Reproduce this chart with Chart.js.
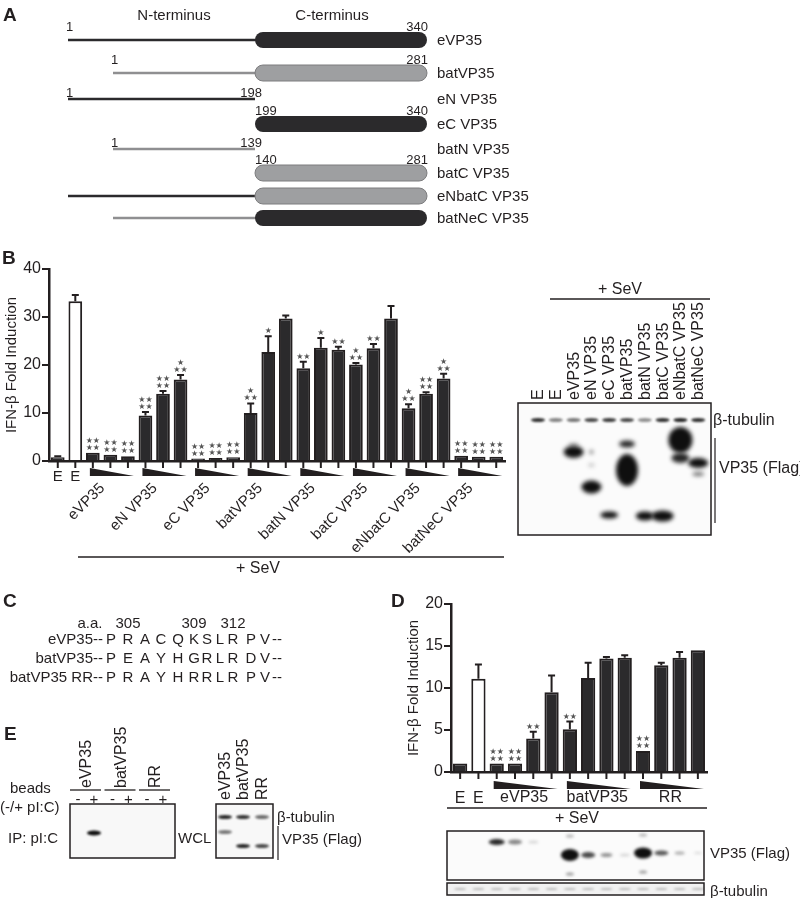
<!DOCTYPE html>
<html>
<head>
<meta charset="utf-8">
<script src="https://cdn.jsdelivr.net/npm/chart.js@4.4.1/dist/chart.umd.min.js"></script>
<style>
  html, body { margin: 0; padding: 0; background: #fff; }
  #page { position: relative; width: 800px; height: 898px; overflow: hidden;
          font-family: "Liberation Sans", Arial, Helvetica, sans-serif; color: #231f20; }
  #page canvas { position: absolute; left: 0; top: 0; }
  .t { position: absolute; white-space: nowrap; line-height: 1; }
</style>
</head>
<body>
<div id="page">
  <canvas id="art" width="800" height="898"></canvas>
  <canvas id="chartB" width="800" height="898"></canvas>
  <canvas id="chartD" width="800" height="898"></canvas>
</div>
<script>
const INK = '#231f20';
const BAR = '#2b2a2c';
const FONT = '"Liberation Sans", Arial, Helvetica, sans-serif';

// ---- panel A: constructs ----
const aNames = ['eVP35', 'batVP35', 'eN VP35', 'eC VP35', 'batN VP35', 'batC VP35', 'eNbatC VP35', 'batNeC VP35'];
const aNterm = ['e', 'bat', 'e', '', 'bat', '', 'e', 'bat'];
const aCterm = ['e', 'bat', '', 'e', '', 'bat', 'bat', 'e'];
const aNumbers = [['1', '', '340'], ['1', '', '281'], ['1', '198', ''], ['', '199', '340'],
                  ['1', '139', ''], ['', '140', '281'], ['', '', ''], ['', '', '']];

// ---- panel B: IFN-beta fold induction ----
const bGroups = ['eVP35', 'eN VP35', 'eC VP35', 'batVP35', 'batN VP35', 'batC VP35', 'eNbatC VP35', 'batNeC VP35'];
const bValues = [0.8, 33.3, 1.7, 1.3, 1.0, 9.5, 14.0, 17.0, 0.5, 0.6, 0.8, 10.0, 22.7, 29.7,
                 19.3, 23.6, 23.2, 20.1, 23.5, 29.7, 11.0, 14.0, 17.2, 1.1, 0.9, 0.9];
const bErrors = [0.2, 1.3, 0.1, 0.1, 0.1, 0.7, 0.6, 0.9, 0.1, 0.1, 0.1, 2.0, 3.3, 0.6,
                 1.4, 2.0, 0.6, 0.3, 0.9, 2.6, 0.8, 0.3, 1.0, 0.1, 0.1, 0.1];
const bStars = ['', '', '**/**', '**/**', '**/**', '**/**', '**/**', '*/**', '**/**', '**/**', '**/**',
                '*/**', '*', '', '**', '*', '**', '*/**', '**', '', '*/**', '**/**', '*/**',
                '**/**', '**/**', '**/**'];
const bTicks = [0, 10, 20, 30, 40];

// ---- panel D ----
const dGroups = ['eVP35', 'batVP35', 'RR'];
const dValues = [1.0, 11.1, 1.0, 1.0, 4.0, 9.5, 5.1, 11.2, 13.5, 13.6, 2.5, 12.7, 13.6, 14.5];
const dErrors = [0.1, 1.7, 0.1, 0.1, 0.8, 2.0, 0.9, 1.8, 0.2, 0.3, 0.1, 0.3, 0.7, 0.1];
const dStars = ['', '', '**/**', '**/**', '**', '', '**', '', '', '', '**/**', '', '', ''];
const dTicks = [0, 5, 10, 15, 20];

// ---- panel C: sequences ----
const cRows = ['eVP35--', 'batVP35--', 'batVP35 RR--'];
const cSeqs = ['PRACQKSLRPV', 'PEAYHGRLRDV', 'PRAYHRRLRPV'];

// ---- blots: [lane, y, w, h, darkness] ----
const blotBLanes = ['E', 'E', 'eVP35', 'eN VP35', 'eC VP35', 'batVP35', 'batN VP35', 'batC VP35', 'eNbatC VP35', 'batNeC VP35'];
const blotBTubulin = [0.85, 0.5, 0.55, 0.75, 0.8, 0.75, 0.45, 0.85, 0.9, 0.85];
const blotBFlag = [[2, 452, 20, 12, 1], [2, 445, 10, 4, 0.4], [3, 452, 4, 4, 0.6], [3, 487, 20, 13, 1],
                   [3, 465, 6, 3, 0.3], [4, 515, 18, 7, 1], [5, 444, 16, 7, 0.9], [5, 470, 22, 32, 1],
                   [6, 516, 18, 9, 1], [7, 516, 22, 11, 1], [8, 440, 24, 26, 1], [8, 458, 18, 10, 0.9],
                   [9, 463, 20, 10, 1], [9, 474, 12, 4, 0.6]];
const blotDFlag = [[2, 842, 16, 6, 0.9], [3, 842, 14, 5, 0.5], [4, 842, 10, 3, 0.15], [6, 855, 18, 12, 1],
                   [6, 836, 8, 3, 0.3], [6, 874, 8, 3, 0.4], [7, 855, 14, 6, 0.75], [8, 855, 12, 4, 0.45],
                   [9, 855, 10, 3, 0.15], [10, 853, 18, 11, 1], [10, 835, 8, 3, 0.3], [10, 872, 8, 3, 0.4],
                   [11, 853, 14, 5, 0.7], [12, 853, 10, 3, 0.35], [13, 853, 8, 2, 0.15]];
const blotEWclTubulin = [0.9, 0.85, 0.6];
const blotEWclFlag = [[0, 832, 14, 4, 0.55], [1, 846, 14, 4, 0.9], [2, 846, 14, 4, 0.75]];

const page = document.getElementById('page');

function label(text, x, y, opt = {}) {
  const d = document.createElement('div');
  d.className = 't';
  d.textContent = text;
  d.style.left = x + 'px';
  d.style.top = y + 'px';
  d.style.fontSize = (opt.size || 15) + 'px';
  if (opt.bold) d.style.fontWeight = 'bold';
  if (opt.rot) {
    d.style.transformOrigin = '0 0';
    d.style.transform = 'rotate(-90deg) translate(0,-50%)';
  } else {
    const ax = opt.align === 'right' ? '-100%' : opt.align === 'center' ? '-50%' : '0';
    d.style.transform = `translate(${ax},-50%)`;
  }
  page.appendChild(d);
}

// ---------- static art: panel A diagram and blots ----------
const art = document.getElementById('art').getContext('2d');
const aRowY = [40, 73, 99, 124, 149, 173, 196, 218];
const E_START = 68, BAT_START = 113, SPLIT = 255, C_END = 427;

aNames.forEach((name, r) => {
  const y = aRowY[r];
  if (aNterm[r]) {
    art.strokeStyle = aNterm[r] === 'e' ? BAR : '#8f8f91';
    art.lineWidth = 2.5;
    art.beginPath();
    art.moveTo(aNterm[r] === 'e' ? E_START : BAT_START, y);
    art.lineTo(SPLIT + (aCterm[r] ? 8 : 0), y);
    art.stroke();
  }
  if (aCterm[r]) {
    art.beginPath();
    art.roundRect(SPLIT, y - 8, C_END - SPLIT, 16, 8);
    art.fillStyle = aCterm[r] === 'e' ? BAR : '#9e9fa1';
    art.fill();
    if (aCterm[r] === 'bat') { art.strokeStyle = '#7c7c7e'; art.lineWidth = 1; art.stroke(); }
  }
  const ny = y - (aCterm[r] ? 14 : 7);
  const [n0, n1, n2] = aNumbers[r];
  if (n0) label(n0, (aNterm[r] === 'e' ? E_START : BAT_START) - 2, ny, { size: 13 });
  if (n1) {
    if (aCterm[r]) label(n1, SPLIT, ny, { size: 13 });
    else label(n1, SPLIT + 7, ny, { size: 13, align: 'right' });
  }
  if (n2) label(n2, C_END + 1, ny, { size: 13, align: 'right' });
  label(name, 437, y - 1, { size: 15 });
});
label('A', 3, 14, { size: 19, bold: true });
label('N-terminus', 174, 14, { size: 15, align: 'center' });
label('C-terminus', 332, 14, { size: 15, align: 'center' });

function blob(x, y, w, h, a, blur = 1.5) {
  art.save();
  art.filter = `blur(${blur}px)`;
  art.fillStyle = `rgba(15,15,15,${a})`;
  art.beginPath();
  art.ellipse(x, y, w / 2, h / 2, 0, 0, Math.PI * 2);
  art.fill();
  art.restore();
}
function box(x0, y0, x1, y1, lw = 1.5) {
  art.strokeStyle = INK;
  art.lineWidth = lw;
  art.strokeRect(x0, y0, x1 - x0, y1 - y0);
}
function hline(x0, x1, y, lw = 1.5) {
  art.strokeStyle = INK; art.lineWidth = lw;
  art.beginPath(); art.moveTo(x0, y); art.lineTo(x1, y); art.stroke();
}
function vline(x, y0, y1, lw = 1.5) {
  art.strokeStyle = INK; art.lineWidth = lw;
  art.beginPath(); art.moveTo(x, y0); art.lineTo(x, y1); art.stroke();
}

// blot B
const laneB = i => 538 + i * 17.8;
art.fillStyle = '#fbfbfb'; art.fillRect(518, 403, 193, 132);
blotBTubulin.forEach((a, i) => blob(laneB(i), 420, 14, 4, a, 1));
blotBFlag.forEach(([l, y, w, h, a]) => blob(laneB(l), y, w, h, a, 2));
box(518, 403, 711, 535);
blotBLanes.forEach((n, i) => label(n, laneB(i), 400, { size: 16, rot: true }));
hline(550, 710, 299);
label('+ SeV', 620, 289, { size: 16, align: 'center' });
label('β-tubulin', 713, 420, { size: 16 });
vline(715, 438, 523, 1.2);
label('VP35 (Flag)', 719, 468, { size: 16 });

// blot D
const laneD = i => 451 + 18.29 * (i + 0.5);
art.fillStyle = '#fbfbfb'; art.fillRect(447, 831, 257, 49);
blotDFlag.forEach(([l, y, w, h, a]) => blob(laneD(l), y, w, h, a, 1.8));
box(447, 831, 704, 880);
art.fillStyle = '#f1f1f1'; art.fillRect(447, 883, 257, 12);
for (let i = 0; i < 14; i++) blob(laneD(i), 889, 12, 2, 0.25, 0.8);
box(447, 883, 704, 895);
label('VP35 (Flag)', 710, 852, { size: 15 });
label('β-tubulin', 710, 890, { size: 15 });

// panel E
art.fillStyle = '#f8f8f8'; art.fillRect(70, 804, 105, 54); art.fillRect(216, 804, 57, 54);
blob(94, 833, 14, 5, 1, 1);
const laneE = [225, 243, 262];
blotEWclTubulin.forEach((a, i) => blob(laneE[i], 817, 14, 4, a, 0.8));
blotEWclFlag.forEach(([l, y, w, h, a]) => blob(laneE[l], y, w, h, a, 0.8));
box(70, 804, 175, 858);
box(216, 804, 273, 858);
label('E', 4, 733, { size: 19, bold: true });
['eVP35', 'batVP35', 'RR'].forEach((n, k) => {
  label(n, 86 + k * 34.5, 788, { size: 16, rot: true });
  hline(70 + k * 34.5, 101 + k * 34.5, 790, 1.3);
  label('-', 78 + k * 34.5, 798, { size: 15, align: 'center' });
  label('+', 94 + k * 34.5, 798, { size: 15, align: 'center' });
});
['eVP35', 'batVP35', 'RR'].forEach((n, k) => label(n, laneE[k], 800, { size: 16, rot: true }));
label('beads', 10, 787, { size: 15 });
label('(-/+ pI:C)', 0, 806, { size: 15 });
label('IP: pI:C', 8, 837, { size: 15 });
label('WCL', 178, 837, { size: 15 });
label('β-tubulin', 277, 816, { size: 15 });
vline(278, 826, 860, 1.2);
label('VP35 (Flag)', 282, 838, { size: 15 });

// panel C
const cCols = [111, 128, 145, 161, 178, 194, 207, 220, 233, 251, 265];
label('C', 3, 600, { size: 19, bold: true });
label('a.a.', 90, 622, { size: 15, align: 'center' });
label('305', cCols[1], 622, { size: 15, align: 'center' });
label('309', cCols[5], 622, { size: 15, align: 'center' });
label('312', cCols[8], 622, { size: 15, align: 'center' });
cRows.forEach((name, r) => {
  const y = 638 + r * 19;
  label(name, 103, y, { size: 15, align: 'right' });
  cSeqs[r].split('').forEach((ch, k) => label(ch, cCols[k], y, { size: 15, align: 'center' }));
  label('--', 272, y, { size: 15 });
});

label('B', 2, 257, { size: 19, bold: true });
label('D', 391, 600, { size: 19, bold: true });

// ---------- bar charts ----------
function annotations(o) {
  return {
    id: 'annot' + o.name,
    afterDatasetsDraw(chart) {
      const { ctx, scales: { x, y } } = chart;
      ctx.save();
      ctx.strokeStyle = INK;
      ctx.lineWidth = 2;
      o.values.forEach((v, i) => {
        const cx = x.getPixelForValue(i);
        let top = y.getPixelForValue(v);
        if (o.errors[i] > 0.15) {
          const et = y.getPixelForValue(v + o.errors[i]);
          ctx.beginPath();
          ctx.moveTo(cx, top); ctx.lineTo(cx, et);
          ctx.moveTo(cx - 3.5, et); ctx.lineTo(cx + 3.5, et);
          ctx.stroke();
          top = et;
        }
        if (o.stars[i]) {
          ctx.fillStyle = '#555';
          ctx.font = '8px "DejaVu Sans"';
          ctx.textAlign = 'center';
          ctx.textBaseline = 'middle';
          o.stars[i].split('/').reverse().forEach((row, k) => {
            ctx.fillText(row.replace(/\*/g, '★'), cx, top - 5 - k * 7);
          });
        }
      });
      ctx.restore();
    },
    afterDraw(chart) {
      const { ctx, scales: { x, y } } = chart;
      const base = y.getPixelForValue(0);
      const px = i => x.getPixelForValue(i);
      ctx.save();
      ctx.strokeStyle = INK;
      ctx.fillStyle = INK;
      ctx.lineWidth = 2;
      o.values.forEach((v, i) => {
        ctx.beginPath(); ctx.moveTo(px(i), base + 1); ctx.lineTo(px(i), base + 7); ctx.stroke();
      });
      ctx.textAlign = 'center';
      ctx.textBaseline = 'middle';
      ctx.font = `${o.labelSize}px ${FONT}`;
      for (let i = 0; i < o.groupStart; i++) ctx.fillText('E', px(i), o.eY);
      o.groups.forEach((g, k) => {
        const i0 = o.groupStart + k * o.groupSize;
        const i1 = i0 + o.groupSize - 1;
        const x0 = px(i0) - 3, x1 = px(i1) + 6;
        ctx.beginPath();
        ctx.moveTo(x0, o.wedge[0]); ctx.lineTo(x0, o.wedge[1]); ctx.lineTo(x1, o.wedge[1]);
        ctx.closePath(); ctx.fill();
        const c = (px(i0) + px(i1)) / 2;
        if (o.rotate) {
          ctx.save();
          ctx.translate(c - 8, o.labelY);
          ctx.rotate(-Math.PI / 4);
          ctx.textAlign = 'right';
          ctx.fillText(g, 0, 0);
          ctx.restore();
        } else {
          ctx.fillText(g, c, o.labelY);
        }
      });
      ctx.lineWidth = 1.5;
      ctx.beginPath(); ctx.moveTo(o.sev[0], o.sev[2]); ctx.lineTo(o.sev[1], o.sev[2]); ctx.stroke();
      ctx.font = `16px ${FONT}`;
      ctx.fillText('+ SeV', o.sevText[0], o.sevText[1]);
      ctx.restore();
    }
  };
}

function barChart(id, o) {
  const cats = o.values.map((v, i) => i < o.groupStart ? 'E'
    : o.groups[Math.floor((i - o.groupStart) / o.groupSize)]);
  const fills = o.values.map((v, i) => i === 1 ? '#ffffff' : BAR);
  return new Chart(document.getElementById(id), {
    type: 'bar',
    data: {
      labels: cats,
      datasets: [{
        data: o.values,
        backgroundColor: fills,
        borderColor: INK,
        borderWidth: 2,
        barPercentage: 0.78,
        categoryPercentage: 1
      }]
    },
    options: {
      responsive: false,
      animation: false,
      events: [],
      layout: { padding: o.pad },
      plugins: { legend: { display: false }, tooltip: { enabled: false } },
      scales: {
        x: {
          offset: true,
          grid: { display: false },
          border: { display: true, color: INK, width: 2.5 },
          ticks: { display: false },
          afterFit: s => { s.height = 20; }
        },
        y: {
          min: 0,
          max: o.ticks[o.ticks.length - 1],
          afterBuildTicks: s => { s.ticks = o.ticks.map(v => ({ value: v })); },
          grid: { drawOnChartArea: false, drawTicks: true, tickLength: 7, lineWidth: 2, color: INK },
          border: { color: INK, width: 2.5 },
          ticks: { font: { family: FONT, size: 16 }, color: INK, padding: 1 },
          title: {
            display: true, text: 'IFN-β Fold Induction', color: INK,
            font: { family: FONT, size: 15 }, padding: { top: 3, bottom: 0 }
          },
          afterFit: s => { s.width = 49; }
        }
      }
    },
    plugins: [annotations(o)]
  });
}

barChart('chartB', {
  name: 'B', values: bValues, errors: bErrors, stars: bStars, ticks: bTicks,
  groups: bGroups, groupStart: 2, groupSize: 3,
  pad: { left: 0, top: 269, right: 295, bottom: 417 },
  eY: 477, wedge: [468, 476], labelY: 486, labelSize: 15, rotate: true,
  sev: [78, 504, 557], sevText: [258, 569]
});

barChart('chartD', {
  name: 'D', values: dValues, errors: dErrors, stars: dStars, ticks: dTicks,
  groups: dGroups, groupStart: 2, groupSize: 4,
  pad: { left: 402, top: 604, right: 93, bottom: 106 },
  eY: 799, wedge: [781, 789], labelY: 798, labelSize: 16, rotate: false,
  sev: [447, 707, 808], sevText: [577, 819]
});
</script>
</body>
</html>
